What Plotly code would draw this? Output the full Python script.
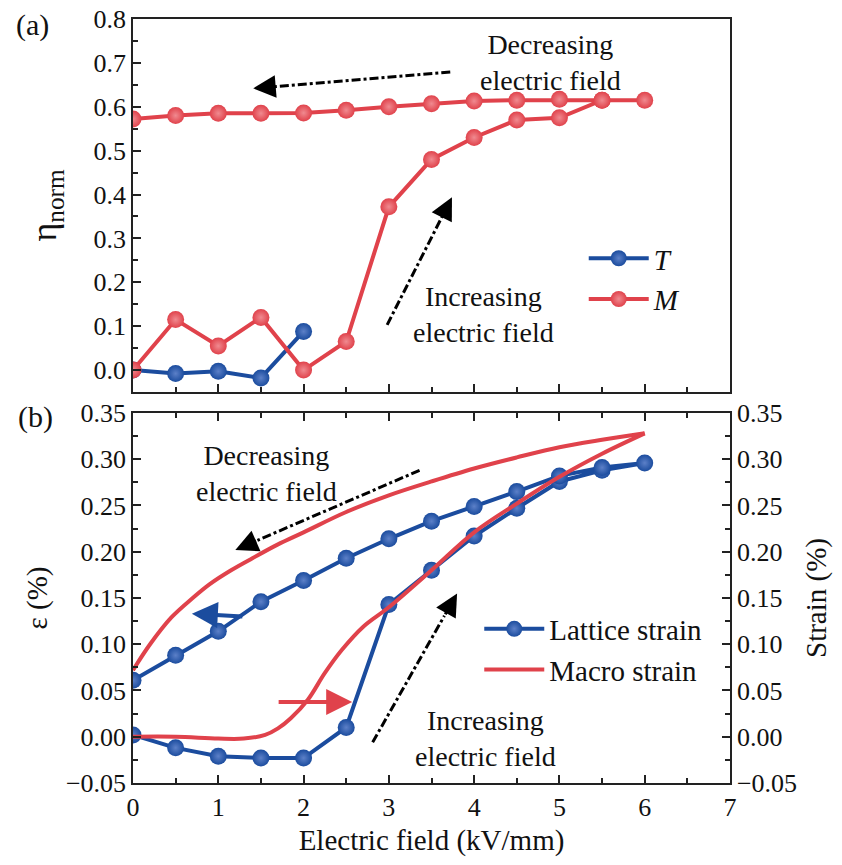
import plotly.graph_objects as go

# ---------------- Data ----------------
# Panel (a): normalized order parameter vs field (up 0->6, then down 6->0)
field_loop = [0, 0.5, 1, 1.5, 2, 2.5, 3, 3.5, 4, 4.5, 5, 5.5, 6,
              5.5, 5, 4.5, 4, 3.5, 3, 2.5, 2, 1.5, 1, 0.5, 0]
eta_M = [0.0, 0.115, 0.055, 0.12, 0.0, 0.065, 0.372, 0.48, 0.53, 0.57, 0.575, 0.615, 0.615,
         0.615, 0.617, 0.615, 0.613, 0.607, 0.600, 0.592, 0.586, 0.585, 0.585, 0.580, 0.572]
field_T = [0, 0.5, 1, 1.5, 2]
eta_T = [0.0, -0.008, -0.003, -0.018, 0.088]

# Panel (b): lattice strain (%) vs field
lattice_strain = [0.002, -0.012, -0.021, -0.023, -0.023, 0.010, 0.143, 0.180, 0.217, 0.247, 0.276, 0.288, 0.296,
                  0.291, 0.282, 0.265, 0.249, 0.233, 0.214, 0.193, 0.169, 0.146, 0.114, 0.088, 0.061]

# Macro strain (%): increasing-field branch and decreasing-field branch
field_macro_up = [0, 0.5, 1.0, 1.3, 1.55, 1.7, 1.85, 2.05, 2.25, 2.45, 2.7, 3.0, 3.5, 4.0, 4.5, 5.0, 5.5, 6.0]
macro_up = [0.0, 0.0, -0.002, -0.002, 0.002, 0.009, 0.020, 0.040, 0.069, 0.094, 0.119, 0.140, 0.180,
            0.221, 0.252, 0.281, 0.306, 0.328]
field_macro_down = [6.0, 5.5, 5.0, 4.5, 4.0, 3.5, 3.0, 2.5, 2.0, 1.7, 1.4, 1.15, 0.9, 0.7, 0.45, 0.2, 0]
macro_down = [0.328, 0.321, 0.313, 0.302, 0.290, 0.276, 0.261, 0.243, 0.221, 0.208, 0.193, 0.180,
              0.165, 0.150, 0.129, 0.100, 0.072]

RED = "#e0424b"
BLUE = "#1b4c9e"
FONT = "'Liberation Serif', 'Times New Roman', Times, 'DejaVu Serif', serif"

fig = go.Figure()

def sphere(color, light):
    return dict(size=17, color=color, line=dict(width=0),
                gradient=dict(type="radial", color=light))

# ----- Panel (a) -----
fig.add_trace(go.Scatter(x=field_T, y=eta_T, mode="lines+markers", name="<i>T</i>",
                         line=dict(color=BLUE, width=4), marker=sphere(BLUE, "#5c80c8"),
                         xaxis="x", yaxis="y", legend="legend"))
fig.add_trace(go.Scatter(x=field_loop, y=eta_M, mode="lines+markers", name="<i>M</i>",
                         line=dict(color=RED, width=4), marker=sphere(RED, "#f08a90"),
                         xaxis="x", yaxis="y", legend="legend"))

# ----- Panel (b) -----
fig.add_trace(go.Scatter(x=field_loop, y=lattice_strain, mode="lines+markers", name="Lattice strain",
                         line=dict(color=BLUE, width=4), marker=sphere(BLUE, "#5c80c8"),
                         xaxis="x2", yaxis="y2", legend="legend2"))
fig.add_trace(go.Scatter(x=field_macro_up, y=macro_up, mode="lines", name="Macro strain",
                         line=dict(color=RED, width=4, shape="spline", smoothing=1.0),
                         xaxis="x2", yaxis="y3", legend="legend2", legendgroup="macro"))
fig.add_trace(go.Scatter(x=field_macro_down, y=macro_down, mode="lines", name="Macro strain",
                         line=dict(color=RED, width=4, shape="spline", smoothing=1.0),
                         xaxis="x2", yaxis="y3", legend="legend2", legendgroup="macro",
                         showlegend=False))

axis_common = dict(showline=True, linecolor="#222", linewidth=1.5, ticks="inside",
                   tickcolor="#222", tickwidth=1.5, ticklen=8, showgrid=False, zeroline=False,
                   tickfont=dict(family=FONT, size=26, color="#111"), automargin=False,
                   ticklabeloverflow="allow")
minor_common = dict(ticks="inside", ticklen=5, tickcolor="#222", tickwidth=1.5)

fig.update_layout(
    width=842, height=865,
    margin=dict(l=133, r=112, t=19, b=82),
    paper_bgcolor="white", plot_bgcolor="white",
    font=dict(family=FONT, color="#111"),
    xaxis=dict(axis_common, domain=[0, 1], range=[0, 7], dtick=1, tick0=0,
               showticklabels=False, mirror=True, anchor="y",
               minor=dict(minor_common, dtick=0.5)),
    yaxis=dict(axis_common, domain=[0.5118, 1], range=[-0.05, 0.8], dtick=0.1, tick0=0,
               tickformat=".1f", mirror=True, anchor="x",
               minor=dict(minor_common, dtick=0.05),
               title=dict(text="η<sub>norm</sub>", font=dict(family=FONT, size=36), standoff=26)),
    xaxis2=dict(axis_common, domain=[0, 1], range=[0, 7], dtick=1, tick0=0,
                mirror="ticks", anchor="y2",
                minor=dict(minor_common, dtick=0.5),
                title=dict(text="Electric field (kV/mm)", font=dict(family=FONT, size=29), standoff=9)),
    yaxis2=dict(axis_common, domain=[0, 0.4843], range=[-0.05, 0.35], dtick=0.05, tick0=0,
                tickformat=".2f", anchor="x2",
                minor=dict(minor_common, dtick=0.025),
                title=dict(text="ε (%)", font=dict(family=FONT, size=29), standoff=10)),
    yaxis3=dict(axis_common, range=[-0.05, 0.35], dtick=0.05, tick0=0, tickformat=".2f",
                overlaying="y2", side="right", anchor="x2",
                minor=dict(minor_common, dtick=0.025),
                title=dict(text="Strain (%)", font=dict(family=FONT, size=29), standoff=10)),
    legend=dict(x=0.755, y=0.72, xanchor="left", yanchor="top", bgcolor="rgba(0,0,0,0)",
                font=dict(family=FONT, size=29), itemwidth=60, tracegroupgap=0),
    legend2=dict(x=0.58, y=0.235, xanchor="left", yanchor="top", bgcolor="rgba(0,0,0,0)",
                 font=dict(family=FONT, size=29), itemwidth=60, tracegroupgap=0),
    showlegend=True,
)

# ----- Panel labels -----
fig.add_annotation(text="(a)", x=-0.168, y=0.992, xref="paper", yref="paper", showarrow=False,
                   xanchor="center", yanchor="middle", font=dict(family=FONT, size=30))
fig.add_annotation(text="(b)", x=-0.164, y=0.479, xref="paper", yref="paper", showarrow=False,
                   xanchor="center", yanchor="middle", font=dict(family=FONT, size=30))

# ----- Text annotations -----
txt = dict(showarrow=False, font=dict(family=FONT, size=28, color="#111"))
fig.add_annotation(text="Decreasing<br>electric field", x=4.89, y=0.70, xref="x", yref="y", **txt)
fig.add_annotation(text="Increasing<br>electric field", x=4.11, y=0.127, xref="x", yref="y", **txt)
fig.add_annotation(text="Decreasing<br>electric field", x=1.57, y=0.285, xref="x2", yref="y2", **txt)
fig.add_annotation(text="Increasing<br>electric field", x=4.13, y=-0.0015, xref="x2", yref="y2", **txt)

# ----- Dash-dot arrows -----
def dashdot_arrow(x0, y0, x1, y1, xr, yr, frac=0.85):
    xm = x0 + (x1 - x0) * frac
    ym = y0 + (y1 - y0) * frac
    fig.add_shape(type="line", x0=x0, y0=y0, x1=xm, y1=ym, xref=xr, yref=yr,
                  line=dict(color="black", width=3, dash="dashdot"))
    fig.add_annotation(x=x1, y=y1, ax=xm, ay=ym, xref=xr, yref=yr, axref=xr, ayref=yr,
                       showarrow=True, arrowhead=2, arrowsize=1.5, arrowwidth=3,
                       arrowcolor="black", text="", standoff=0)

dashdot_arrow(3.72, 0.679, 1.41, 0.642, "x", "y", frac=0.9)
dashdot_arrow(2.98, 0.103, 3.74, 0.394, "x", "y")
dashdot_arrow(3.36, 0.288, 1.20, 0.202, "x2", "y2", frac=0.88)
dashdot_arrow(2.81, -0.006, 3.80, 0.155, "x2", "y2")

# ----- Solid coloured arrows pointing to each axis -----
fig.add_annotation(x=0.69, y=0.133, ax=1.30, ay=0.130, xref="x2", yref="y2", axref="x2", ayref="y2",
                   showarrow=True, arrowhead=2, arrowsize=1.3, arrowwidth=4, arrowcolor=BLUE,
                   text="", standoff=0)
fig.add_annotation(x=2.57, y=0.0375, ax=1.69, ay=0.0375, xref="x2", yref="y2", axref="x2", ayref="y2",
                   showarrow=True, arrowhead=2, arrowsize=1.3, arrowwidth=4, arrowcolor=RED,
                   text="", standoff=0)

# Remove the browser's default 8px body margin so the figure sits at the page origin.
fig.write_html("out.html", config={"displayModeBar": False},
               post_script="document.body.style.margin='0';")
